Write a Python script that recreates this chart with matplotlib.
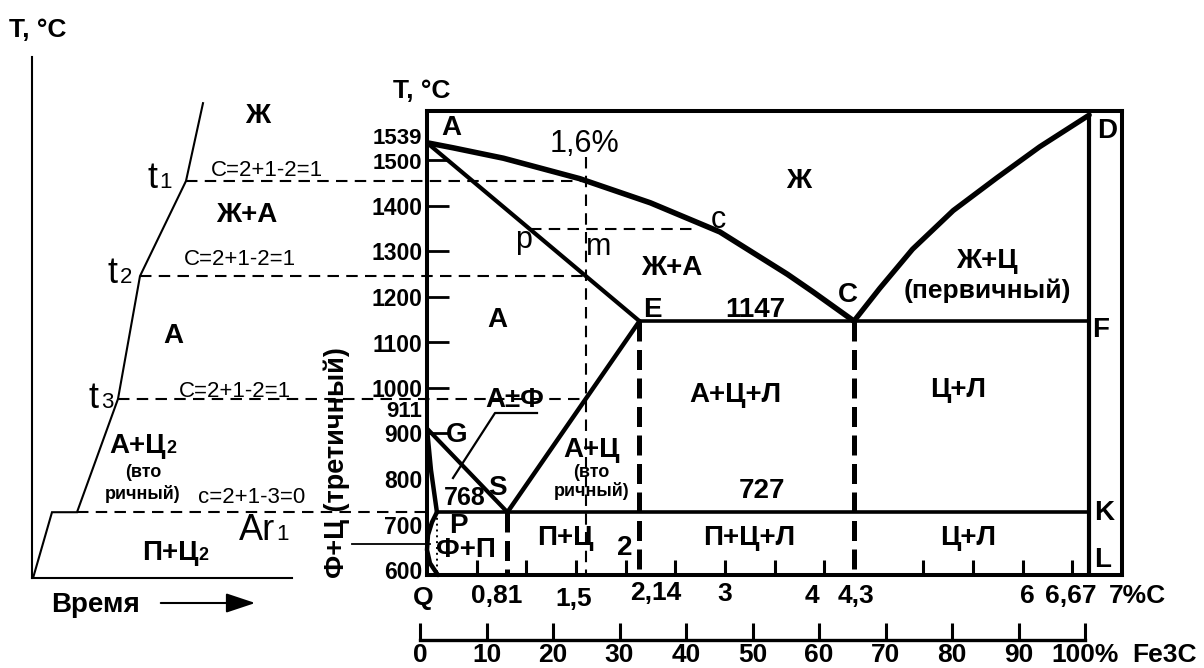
import numpy as np
import matplotlib
matplotlib.use("Agg")
import matplotlib.pyplot as plt
from matplotlib.patches import FancyArrowPatch

plt.rcParams['font.family'] = ['Liberation Sans', 'DejaVu Sans']

# ---------------- data ----------------
# Fe-Fe3C diagram, carbon % vs temperature °C
liq_C = [0, 0.26, 0.77, 1.54, 2.25, 2.95, 3.63, 3.89, 4.3]          # A-C liquidus
liq_T = [1539, 1528, 1505, 1460, 1407, 1343, 1250, 1211, 1147]
sol_C = [0, 2.14]                                        # A-E solidus
sol_T = [1539, 1147]
es_C = [2.14, 0.81]                                      # E-S
es_T = [1147, 727]
gs_C = [0, 0.81]                                         # G-S
gs_T = [911, 727]
gp_C = [0, 0.04, 0.1]                                    # G-P
gp_T = [911, 820, 727]
pq_C = [0.1, 0.05, 0.01, 0.0, 0.03, 0.11]                # P-Q
pq_T = [727, 705, 677, 644, 615, 589]
cd_C = [4.3, 4.56, 4.89, 5.30, 5.74, 6.17, 6.67]         # C-D liquidus
cd_T = [1147, 1219, 1305, 1390, 1462, 1530, 1600]
ecf_C = [2.14, 6.67]
ecf_T = 1147
psk_C = [0.1, 6.67]
psk_T = 727
cementite_C = 6.67
alloy_C = 1.6
alloy_top_T = 1508
pc_line_C = [1.04, 2.7]
pc_line_T = 1349
eut_C = [2.14, 4.3]
eutd_C = 0.81

# cooling curve (time, T)
cool_t = [1, 20, 45, 86, 108, 154, 171]
cool_T = [582, 727, 727, 976, 1246, 1455, 1626]
crit_t = [154, 108, 86, 45]            # t1, t2, t3, Ar1 on the curve
crit_T = [1455, 1246, 976, 727]
crit_end_C = [1.6, 1.6, 1.6, 0.0]

ytick_vals = [1400, 1300, 1200, 1100, 1000, 900, 800, 700, 600]
ytick_marks = [1500, 1400, 1300, 1200, 1100, 1000, 900]
xtick_marks = [0.5, 1, 1.5, 2, 2.5, 3, 3.5, 4, 5, 5.5, 6, 6.5]
x_labels = ["Q", "0,81", "1,5", "2,14", "3", "4", "4,3", "6", "6,67", "7%C"]
fe3c_ticks = [0, 10, 20, 30, 40, 50, 60, 70, 80, 90, 100]
fe3c_labels = ["0", "10", "20", "30", "40", "50", "60", "70", "80", "90", "100%"]

# ---------------- layout ----------------
W, H = 1204, 668
fig = plt.figure(figsize=(W / 100, H / 100), dpi=100)


def rect(l, t, r, b):
    return [l / W, 1 - b / H, (r - l) / W, (b - t) / H]


def T_of_px(y):
    return 600 + (570 - y) / 0.455


def ft(x, y, s, size=20, weight='bold', ha='center', va='baseline', **kw):
    fig.text(x / W, 1 - y / H, s, fontsize=size, fontweight=weight,
             ha=ha, va=va, **kw)


# cooling-curve axes
axc = fig.add_axes(rect(32, 57, 292, 578))
axc.set_xlim(0, 260)
axc.set_ylim(T_of_px(578), T_of_px(57))
axc.patch.set_alpha(0)
for s in ['top', 'right']:
    axc.spines[s].set_visible(False)
for s in ['left', 'bottom']:
    axc.spines[s].set_linewidth(1.5)
axc.set_xticks([])
axc.set_yticks([])
axc.plot(cool_t, cool_T, color='black', lw=1.5, solid_joinstyle='miter')

# main diagram axes
ax = fig.add_axes(rect(427, 111, 1122, 575))
ax.set_xlim(0, 7)
ax.set_ylim(T_of_px(575), T_of_px(111))
ax.patch.set_alpha(0)
for s in ax.spines.values():
    s.set_linewidth(2.9)

ax.set_yticks(ytick_vals, [str(v) for v in ytick_vals])
ax.tick_params(axis='y', length=0, pad=3.5, labelsize=16.5)
for lab in ax.get_yticklabels():
    lab.set_fontweight('bold')
ax.text(-0.05, 1549, "1539", fontsize=16, fontweight='bold', ha='right', va='center')
ax.text(-0.05, 1494, "1500", fontsize=16, fontweight='bold', ha='right', va='center')
ax.text(-0.05, 949, "911", fontsize=16, fontweight='bold', ha='right', va='center')
ax.hlines(ytick_marks, 0, 0.22, color='black', lw=2)

ax.set_xticks(xtick_marks)
ax.tick_params(axis='x', direction='in', length=11, width=2.2, labelbottom=False)

k = dict(color='black', solid_capstyle='round', solid_joinstyle='round')
ax.plot(liq_C, liq_T, lw=4.0, **k)
ax.plot(sol_C, sol_T, lw=3.0, **k)
ax.plot(es_C, es_T, lw=3.2, **k)
ax.plot(gs_C, gs_T, lw=3.0, **k)
ax.plot(gp_C, gp_T, lw=3.2, **k)
ax.plot(pq_C, pq_T, lw=3.2, clip_on=False, **k)
ax.plot(cd_C, cd_T, lw=3.8, **k)
ax.hlines(ecf_T, ecf_C[0], ecf_C[1], color='black', lw=2.6)
ax.hlines(psk_T, psk_C[0], psk_C[1], color='black', lw=2.6)
ax.vlines(cementite_C, T_of_px(575), cd_T[-1], color='black', lw=3.0)

thick_dash = dict(color='black', lw=3.6, linestyle=(0, (4, 1.7)))
for c in eut_C:
    ax.plot([c, c], [ecf_T, T_of_px(575)], **thick_dash)
ax.plot([eutd_C, eutd_C], [psk_T, T_of_px(575)], **thick_dash)
ax.plot([psk_C[0], psk_C[0]], [psk_T, T_of_px(575)], color='black', lw=1.4,
        linestyle=(0, (1, 2)))

thin_dash = dict(color='black', lw=1.5, linestyle=(0, (5.5, 3.5)))
ax.plot([alloy_C, alloy_C], [alloy_top_T, T_of_px(575)], **thin_dash)
ax.plot(pc_line_C, [pc_line_T, pc_line_T], **thin_dash)

# dashed links from the cooling curve to the diagram
for t, T, c_end in zip(crit_t, crit_T, crit_end_C):
    disp = axc.transData.transform((t, T))
    x0 = ax.transData.inverted().transform(disp)[0]
    ax.plot([x0, c_end], [T, T], clip_on=False, **thin_dash)


# pointer lines
def px2data(x, y):
    return (x - 427) / (695 / 7), T_of_px(y)


p1 = [px2data(352, 544), px2data(430, 544)]
ax.plot([p[0] for p in p1], [p[1] for p in p1], color='black', lw=1.3, clip_on=False)
p2 = [px2data(537, 413), px2data(495, 413), px2data(453, 478)]
ax.plot([p[0] for p in p2], [p[1] for p in p2], color='black', lw=1.6)

# Fe3C axis
axf = fig.add_axes(rect(420, 600, 1085, 640))
axf.patch.set_alpha(0)
for s in ['top', 'right', 'left']:
    axf.spines[s].set_visible(False)
axf.spines['bottom'].set_linewidth(2.4)
axf.set_xlim(0, 100)
axf.set_yticks([])
axf.set_xticks(fe3c_ticks, fe3c_labels)
axf.tick_params(axis='x', direction='in', length=12, width=2.2, pad=2, labelsize=19)
for lab in axf.get_xticklabels():
    lab.set_fontweight('bold')
ft(1165, 662, "Fe3C", size=19)

# bottom %C labels
x_label_px = [423, 497, 574, 656, 725, 812, 856, 1027, 1071, 1137]
x_label_base = [605, 603, 606, 600, 601, 603, 603, 603, 603, 603]
for s, xp, yp in zip(x_labels, x_label_px, x_label_base):
    ft(xp, yp, s, size=19)

# ---------------- left panel texts ----------------
ft(38, 37, "T, °C", size=19)
ft(258, 123, "Ж")
ft(267, 176, "C=2+1-2=1", size=16, weight='normal')
ft(152, 188, "t", size=26, weight='normal')
ft(166, 188, "1", size=16, weight='normal')
ft(247, 222, "Ж+А")
ft(240, 265, "C=2+1-2=1", size=16, weight='normal')
ft(112, 283, "t", size=26, weight='normal')
ft(126, 283, "2", size=16, weight='normal')
ft(173, 343, "А")
ft(235, 397, "C=2+1-2=1", size=16, weight='normal')
ft(93, 408, "t", size=26, weight='normal')
ft(107, 408, "3", size=16, weight='normal')
ft(138, 453, "А+Ц")
ft(171, 453, "2", size=13)
ft(143, 477, "(вто", size=13)
ft(143, 499, "ричный)", size=13)
ft(252, 503, "c=2+1-3=0", size=16, weight='normal')
ft(257, 540, "Ar", size=26, weight='normal')
ft(282, 540, "1", size=16, weight='normal')
ft(170, 560, "П+Ц")
ft(203, 560, "2", size=13)
ft(96, 612, "Время")
fig.patches.append(FancyArrowPatch((158 / W, 1 - 603 / H), (258 / W, 1 - 603 / H),
                                   transform=fig.transFigure,
                                   arrowstyle='-|>,head_length=0.9,head_width=0.3',
                                   mutation_scale=20, lw=1.5, color='black'))
fig.text(337 / W, 1 - 463 / H, "Ф+Ц (третичный)", rotation=90, fontsize=19.5,
         fontweight='bold', ha='center', va='center')

# ---------------- diagram texts ----------------
ft(422, 98, "T, °C", size=19)
ft(451, 135, "A")
ft(585, 152, "1,6%", size=22, weight='normal')
ft(799, 188, "Ж")
ft(718, 228, "c", size=22, weight='normal')
ft(524, 248, "p", size=22, weight='normal')
ft(599, 255, "m", size=22, weight='normal')
ft(672, 275, "Ж+А")
ft(987, 268, "Ж+Ц")
ft(987, 298, "(первичный)", size=19)
ft(848, 302, "C")
ft(652, 317, "E")
ft(755, 317, "1147")
ft(1101, 337, "F")
ft(497, 327, "А")
ft(735, 402, "А+Ц+Л")
ft(958, 397, "Ц+Л")
ft(515, 407, "А±Ф")
ft(457, 442, "G")
ft(497, 495, "S")
ft(465, 505, "768", size=18)
ft(458, 533, "P")
ft(466, 557, "Ф+П")
ft(592, 457, "А+Ц")
ft(591, 477, "(вто", size=13)
ft(592, 496, "ричный)", size=13)
ft(762, 498, "727")
ft(565, 545, "П+Ц")
ft(625, 555, "2")
ft(749, 545, "П+Ц+Л")
ft(968, 545, "Ц+Л")
ft(1107, 138, "D")
ft(1104, 520, "K")
ft(1103, 567, "L")

fig.savefig("out.png", dpi=100)
